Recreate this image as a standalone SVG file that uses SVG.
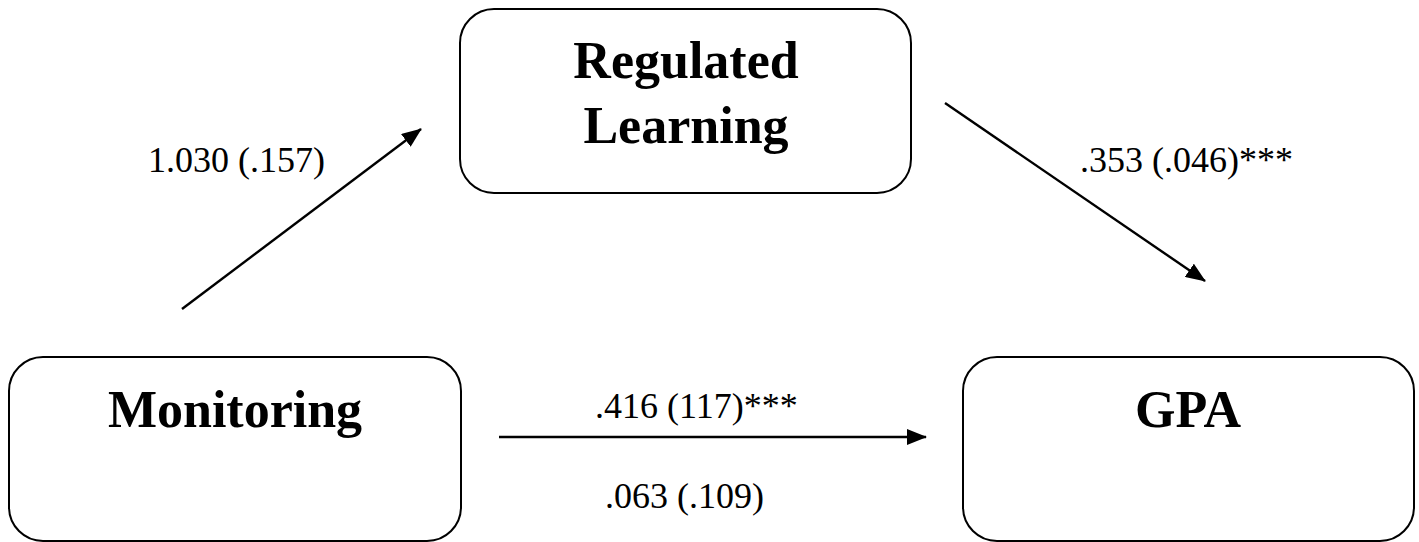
<svg xmlns="http://www.w3.org/2000/svg" width="1419" height="542" viewBox="0 0 1419 542">
<style>
.box{fill:#fff;stroke:#000;stroke-width:2}
.node{font-family:"Liberation Serif","Times New Roman",serif;font-weight:bold;font-size:52px;fill:#000;text-anchor:middle}
.lbl{font-family:"Liberation Serif","Times New Roman",serif;font-size:36px;fill:#000}
.conn{stroke:#000;stroke-width:2.4;fill:none;marker-end:url(#ah)}
</style>
<defs>
<marker id="ah" markerUnits="userSpaceOnUse" markerWidth="20" markerHeight="16" refX="19" refY="8" orient="auto">
<path d="M0,0 L20,8 L0,16 Z" fill="#000"/>
</marker>
</defs>
<rect width="1419" height="542" fill="#fff"/>
<g id="regulated-learning">
<rect class="box" x="460" y="9" width="451" height="184" rx="34"/>
<text class="node" x="686" y="78">Regulated</text>
<text class="node" x="686" y="143">Learning</text>
</g>
<g id="monitoring">
<rect class="box" x="9" y="357" width="452" height="184" rx="34"/>
<text class="node" x="235" y="427">Monitoring</text>
</g>
<g id="gpa">
<rect class="box" x="963" y="357" width="451" height="184" rx="34"/>
<text class="node" x="1188" y="427">GPA</text>
</g>
<g id="connectors">
<line class="conn" x1="182" y1="309" x2="421" y2="129"/>
<line class="conn" x1="945" y1="103" x2="1205" y2="281"/>
<line class="conn" x1="499" y1="437" x2="926" y2="437"/>
</g>
<g id="labels">
<text class="lbl" x="148" y="172">1.030 (.157)</text>
<text class="lbl" x="1080" y="172">.353 (.046)***</text>
<text class="lbl" x="595" y="418">.416 (117)***</text>
<text class="lbl" x="605" y="508">.063 (.109)</text>
</g>
</svg>
